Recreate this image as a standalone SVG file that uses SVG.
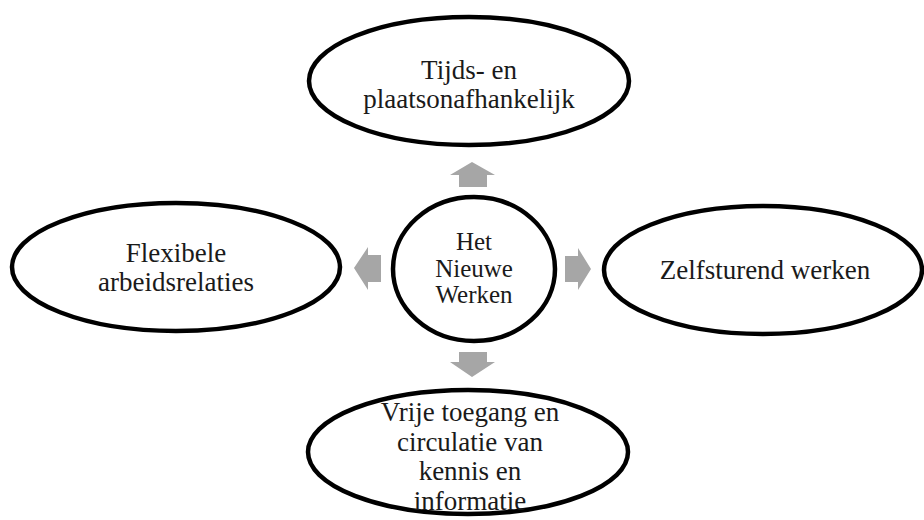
<svg xmlns="http://www.w3.org/2000/svg" width="924" height="520" viewBox="0 0 924 520">
<style>
.node{fill:#fff;stroke:#000;stroke-width:4.5}
.t{font-family:"Liberation Serif","Times New Roman",serif;font-size:27px;fill:#1a1a1a;text-anchor:middle}
.c{font-size:25px}
.arr{fill:#a6a6a6}
</style>
<rect width="924" height="520" fill="#fff"/>
<g id="connectors">
<polygon class="arr" points="472,162 495,175 487,175 487,187 459,187 459,175 450,175"/>
<polygon class="arr" points="472,377 495,362 487,362 487,352 459,352 459,362 450,362"/>
<polygon class="arr" points="354,268 368,247 368,255 381,255 381,282 368,282 368,290"/>
<polygon class="arr" points="591,269 578,248 578,256 565,256 565,282 578,282 578,290"/>
</g>
<g id="top">
<ellipse class="node" cx="469" cy="81" rx="160" ry="64"/>
<text class="t" x="469" y="79">Tijds- en</text>
<text class="t" x="469" y="108">plaatsonafhankelijk</text>
</g>
<g id="center">
<ellipse class="node" cx="474" cy="269" rx="81" ry="72"/>
<text class="t c" x="474" y="250">Het</text>
<text class="t c" x="474" y="277">Nieuwe</text>
<text class="t c" x="474" y="303">Werken</text>
</g>
<g id="left">
<ellipse class="node" cx="176" cy="267" rx="164" ry="64"/>
<text class="t" x="176" y="262">Flexibele</text>
<text class="t" x="176" y="291">arbeidsrelaties</text>
</g>
<g id="right">
<ellipse class="node" cx="763" cy="270" rx="159" ry="64"/>
<text class="t" x="765" y="279">Zelfsturend werken</text>
</g>
<g id="bottom">
<ellipse class="node" cx="468" cy="452" rx="160" ry="62"/>
<text class="t" x="470" y="421">Vrije toegang en</text>
<text class="t" x="470" y="451">circulatie van</text>
<text class="t" x="470" y="480">kennis en</text>
<text class="t" x="470" y="510">informatie</text>
</g>
</svg>
